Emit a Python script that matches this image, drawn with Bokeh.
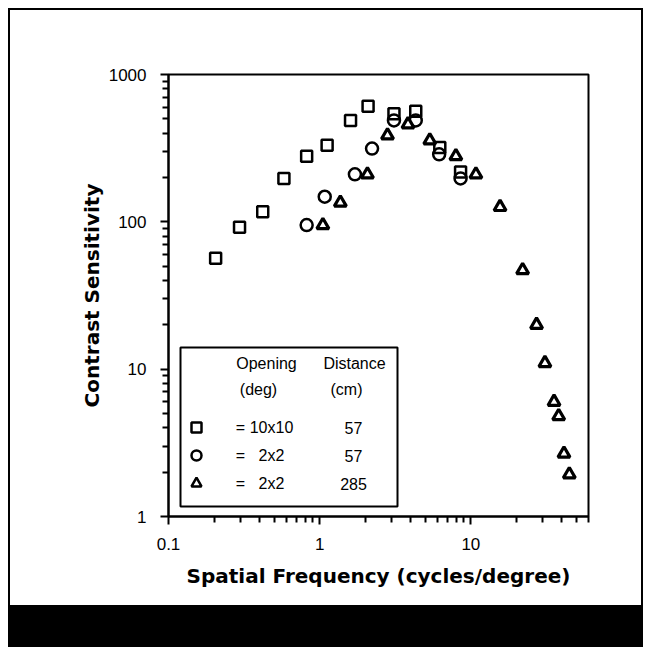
import math
from bokeh.plotting import figure
from bokeh.models import Range1d, FixedTicker, Label, BoxAnnotation, CustomJSTickFormatter, ColumnDataSource
from bokeh.embed import file_html
from bokeh.resources import INLINE
from bokeh.core.properties import value

# ---- data ----
sq_x = [0.205, 0.295, 0.42, 0.58, 0.82, 1.12, 1.60, 2.09, 3.10, 4.32, 6.23, 8.55]
sq_y = [56.5, 92, 117, 197, 279, 331, 488, 610, 542, 564, 319, 218]
ci_x = [0.82, 1.08, 1.71, 2.22, 3.10, 4.32, 6.17, 8.55]
ci_y = [95, 148, 210, 314, 488, 488, 287, 197]
tr_x = [1.05, 1.37, 2.07, 2.81, 3.84, 5.35, 7.96, 10.8, 15.6, 22.0, 27.2, 30.9, 35.5, 38.1, 41.3, 44.8]
tr_y = [95, 135, 210, 386, 459, 357, 279, 210, 126, 47, 20, 11, 6.0, 4.8, 2.67, 1.93]

x_major = [0.1, 1, 10]
x_minor = [0.2, 0.3, 0.4, 0.5, 0.6, 0.7, 0.8, 0.9, 2, 3, 4, 5, 6, 7, 8, 9, 20, 30, 40, 50, 60]
y_major = [1, 10, 100, 1000]
y_minor = [2, 3, 4, 5, 6, 7, 8, 9, 20, 30, 40, 50, 60, 70, 80, 90, 200, 300, 400, 500, 600, 700, 800, 900]

legend_header = [["Opening", "Distance"], ["(deg)", "(cm)"]]
legend_open = ["10x10", "2x2", "2x2"]
legend_dist = ["57", "57", "285"]

XMIN, XMAX = 0.1, 60
YMIN, YMAX = 1, 1000

# ---- layout (page pixels of the frame) ----
FL, FT, FR, FB = 168, 74, 588, 516
OFFX, OFFY = 10, 10  # canvas origin on page (8px css margin + 2px css border)
CW, CH = 631, 595    # canvas size

def px2x(px):
    return 10 ** (math.log10(XMIN) + (px - FL) / (FR - FL) * (math.log10(XMAX) - math.log10(XMIN)))

def py2y(py):
    return 10 ** (math.log10(YMAX) - (py - FT) / (FB - FT) * (math.log10(YMAX) - math.log10(YMIN)))

p = figure(x_axis_type="log", y_axis_type="log",
           x_range=Range1d(XMIN, XMAX), y_range=Range1d(YMIN, YMAX),
           frame_width=FR - FL, frame_height=FB - FT,
           min_border_left=FL - OFFX, min_border_top=FT - OFFY,
           min_border_right=CW - (FR - OFFX), min_border_bottom=CH - (FB - OFFY),
           output_backend="svg", toolbar_location=None,
           styles={"margin-left": "8px", "margin-top": "8px",
                   "border-left": "2px solid black", "border-top": "2px solid black",
                   "border-right": "2px solid black", "border-bottom": "42px solid black"})

p.grid.visible = False
p.outline_line_color = "black"
p.outline_line_width = 2
p.outline_line_alpha = 1
p.background_fill_color = "white"
p.border_fill_color = "white"

fmt = CustomJSTickFormatter(code="return String(tick);")
for ax, maj, mino in ((p.xaxis[0], x_major, x_minor), (p.yaxis[0], y_major, y_minor)):
    ax.ticker = FixedTicker(ticks=maj, minor_ticks=mino)
    ax.formatter = fmt
    ax.axis_line_width = 2
    ax.axis_line_color = "black"
    ax.major_tick_line_width = 2
    ax.minor_tick_line_width = 2
    ax.major_tick_out = 8
    ax.major_tick_in = 0
    ax.minor_tick_out = 6
    ax.minor_tick_in = 0
    ax.major_label_text_font = "Liberation Sans"
    ax.major_label_text_font_size = "17px"
    ax.major_label_text_color = "black"
    ax.axis_label_text_font = "DejaVu Sans"
    ax.axis_label_text_font_style = "bold"
    ax.axis_label_text_font_size = "20px"
    ax.axis_label_text_color = "black"

p.xaxis.major_label_standoff = 13
p.yaxis.major_label_standoff = 14
p.xaxis.axis_label = "Spatial Frequency (cycles/degree)"
p.yaxis.axis_label = "Contrast Sensitivity"
p.xaxis.axis_label_standoff = 11
p.yaxis.axis_label_standoff = 2

# ---- data marks ----
src_sq = ColumnDataSource(dict(x=sq_x, y=sq_y))
src_ci = ColumnDataSource(dict(x=ci_x, y=ci_y))
src_tr = ColumnDataSource(dict(x=tr_x, y=tr_y))
p.scatter("x", "y", source=src_sq, marker="square", size=11, line_width=2.5,
          line_color="black", fill_alpha=0)
p.scatter("x", "y", source=src_ci, marker="circle", size=12, line_width=2.5,
          line_color="black", fill_alpha=0)
p.scatter("x", "y", source=src_tr, marker="triangle", size=12, line_width=3.2,
          line_color="black", fill_color="white")

# ---- legend box ----
p.add_layout(BoxAnnotation(left=px2x(180), right=px2x(397), top=py2y(347), bottom=py2y(506),
                           fill_color="white", fill_alpha=1, line_color="black",
                           line_alpha=1, line_width=2, level="underlay"))

def lab(txt, px, py, size="16px"):
    p.add_layout(Label(x=px2x(px), y=py2y(py), text=txt, text_align="center",
                       text_baseline="middle", text_font="Liberation Sans",
                       text_font_size=size, text_color="black"))

lab(legend_header[0][0], 266, 363)
lab(legend_header[0][1], 354, 363)
lab(legend_header[1][0], 258, 389)
lab(legend_header[1][1], 346, 389)
rows_py = [427, 455, 483]
markers = ["square", "circle", "triangle"]
leg_src = ColumnDataSource(dict(x=[px2x(196)] * 3, y=[py2y(v) for v in rows_py], m=markers))
p.scatter("x", "y", source=leg_src, marker="m", size=10, line_width=2.5,
          line_color="black", fill_color="white")
for i, py in enumerate(rows_py):
    lab("=", 240, py)
    lab(legend_open[i], 271, py)
    lab(legend_dist[i], 353, py)

open("out.html", "w").write(file_html(p, INLINE))
